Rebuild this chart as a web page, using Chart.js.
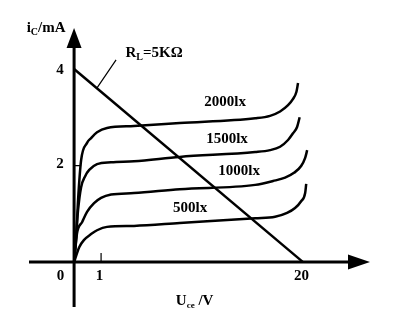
<!DOCTYPE html>
<html>
<head>
<meta charset="utf-8">
<script src="https://cdn.jsdelivr.net/npm/chart.js@4/dist/chart.umd.min.js"></script>
<style>
  body { margin: 0; background: #fff; }
  canvas { display: block; }
</style>
</head>
<body>
<canvas id="chart" width="397" height="324"></canvas>
<script>
// Uce (V), iC (mA) points
const curve2000 = [[0,0],[0.074,0.46],[0.148,1.29],[0.26,2.11],[0.48,2.47],[0.63,2.57],[0.85,2.69],[1.56,2.78],[4.1,2.82],[8.4,2.88],[15.5,2.98],[16.9,3.03],[17.84,3.12],[18.59,3.25],[19.06,3.38],[19.38,3.53],[19.53,3.71]];
const curve1500 = [[0,0],[0.074,0.56],[0.148,1.08],[0.26,1.55],[0.41,1.78],[0.56,1.91],[0.85,2.03],[1.94,2.07],[4.1,2.09],[8.4,2.18],[15.5,2.28],[16.9,2.32],[17.84,2.39],[18.59,2.53],[19.06,2.67],[19.44,2.8],[19.68,3.0]];
const curve1000 = [[0,0],[0.11,0.6],[0.3,0.83],[0.48,1.04],[0.74,1.22],[1.0,1.33],[1.94,1.4],[4.1,1.43],[8.4,1.51],[15.5,1.6],[17.18,1.68],[18.31,1.75],[19.15,1.85],[19.82,1.99],[20.2,2.16],[20.39,2.32]];
const curve500 = [[0,0],[0.19,0.31],[0.37,0.46],[0.63,0.58],[0.85,0.66],[1.56,0.73],[4.1,0.75],[8.4,0.81],[15.5,0.91],[17.37,0.94],[18.5,1.02],[19.25,1.12],[19.82,1.26],[20.2,1.43],[20.3,1.62]];
const loadLine = [[0,4],[20,0]];   // RL = 5 kΩ

const curveNames = ['2000lx', '1500lx', '1000lx', '500lx'];
const xTicks = [0, 1, 20];
const yTicks = [2, 4];

// the sketch is not to scale: 0..1 V is stretched
const STRETCH = 2.54;
const warp = v => v <= 1 ? v * STRETCH : STRETCH + (v - 1);
const unwarp = u => u <= STRETCH ? u / STRETCH : u - STRETCH + 1;

class WarpedScale extends Chart.LinearScale {
  static id = 'warped';
  static defaults = Chart.LinearScale.defaults;
  getPixelForValue(value) {
    const a = warp(this.min), b = warp(this.max);
    return this.getPixelForDecimal((warp(value) - a) / (b - a));
  }
  getValueForPixel(pixel) {
    const a = warp(this.min), b = warp(this.max);
    return unwarp(a + this.getDecimalForPixel(pixel) * (b - a));
  }
}
Chart.register(WarpedScale);

const FONT = '"Liberation Serif", "Times New Roman", serif';
const toPts = arr => arr.map(([x, y]) => ({ x, y }));

// curve labels (in data units) and the RL note
const curveLabelAt = [[12.67, 3.34], [12.85, 2.57], [13.98, 1.91], [9.37, 1.14]];
const rlNote = { at: [5.99, 4.35], from: [2.41, 4.19], to: [0.85, 3.61] };

function richText(ctx, parts, cx, cy) {
  let w = 0;
  parts.forEach(p => { ctx.font = 'bold ' + p[1] + 'px ' + FONT; w += ctx.measureText(p[0]).width; });
  let x = cx - w / 2;
  ctx.textAlign = 'left';
  ctx.textBaseline = 'alphabetic';
  parts.forEach(p => {
    ctx.font = 'bold ' + p[1] + 'px ' + FONT;
    ctx.fillText(p[0], x, cy + 5 + (p[2] || 0));
    x += ctx.measureText(p[0]).width;
  });
}

const sketchPlugin = {
  id: 'sketch',
  beforeDatasetsDraw(chart) {
    const { ctx, chartArea: a, scales: { x, y } } = chart;
    const x0 = x.getPixelForValue(0), y0 = y.getPixelForValue(0);
    ctx.save();
    ctx.strokeStyle = '#000';
    ctx.fillStyle = '#000';
    // axes with arrows
    ctx.lineWidth = 3;
    ctx.beginPath();
    ctx.moveTo(a.left, y0); ctx.lineTo(a.right - 18, y0);
    ctx.moveTo(x0, a.bottom); ctx.lineTo(x0, a.top + 16);
    ctx.stroke();
    ctx.beginPath();
    ctx.moveTo(a.right, y0); ctx.lineTo(a.right - 22, y0 - 7.5); ctx.lineTo(a.right - 22, y0 + 7.5);
    ctx.closePath(); ctx.fill();
    ctx.beginPath();
    ctx.moveTo(x0, a.top); ctx.lineTo(x0 - 7.5, a.top + 20); ctx.lineTo(x0 + 7.5, a.top + 20);
    ctx.closePath(); ctx.fill();
    // small tick marks
    ctx.lineWidth = 1.2;
    ctx.beginPath();
    const x1 = x.getPixelForValue(1);
    ctx.moveTo(x1, y0); ctx.lineTo(x1, y0 - 9);
    const y2 = y.getPixelForValue(2);
    ctx.moveTo(x0, y2); ctx.lineTo(x0 + 7, y2);
    // RL leader line
    ctx.moveTo(x.getPixelForValue(rlNote.from[0]), y.getPixelForValue(rlNote.from[1]));
    ctx.lineTo(x.getPixelForValue(rlNote.to[0]), y.getPixelForValue(rlNote.to[1]));
    ctx.stroke();
    ctx.restore();
  },
  afterDatasetsDraw(chart) {
    const { ctx, chartArea: a, scales: { x, y } } = chart;
    const x0 = x.getPixelForValue(0), y0 = y.getPixelForValue(0);
    ctx.save();
    ctx.fillStyle = '#000';
    // tick labels
    xTicks.forEach(v => {
      const px = v === 0 ? x0 - 13.5 : x.getPixelForValue(v) - 1.5;
      richText(ctx, [[String(v), 15]], px, y0 + 12.5);
    });
    yTicks.forEach(v => richText(ctx, [[String(v), 15]], x0 - 14, y.getPixelForValue(v) - (v === 2 ? 3 : 0)));
    // axis titles
    richText(ctx, [['i', 15], ['C', 10, 3], ['/mA', 15]], x0 - 28, a.top - 1);
    richText(ctx, [['U', 15], ['ce', 9, 3], [' /V', 15]], x.getPixelForValue(9.8), y0 + 38);
    // curve labels
    curveNames.forEach((n, i) => richText(ctx, [[n, 15]], x.getPixelForValue(curveLabelAt[i][0]), y.getPixelForValue(curveLabelAt[i][1])));
    richText(ctx, [['R', 15], ['L', 10, 3], ['=5KΩ', 15]], x.getPixelForValue(rlNote.at[0]), y.getPixelForValue(rlNote.at[1]));
    ctx.restore();
  }
};

const lineStyle = { showLine: true, borderColor: '#000', borderWidth: 2.5, pointRadius: 0, fill: false, cubicInterpolationMode: 'monotone' };

new Chart(document.getElementById('chart'), {
  type: 'scatter',
  data: {
    datasets: [
      { label: curveNames[0], data: toPts(curve2000), ...lineStyle },
      { label: curveNames[1], data: toPts(curve1500), ...lineStyle },
      { label: curveNames[2], data: toPts(curve1000), ...lineStyle },
      { label: curveNames[3], data: toPts(curve500), ...lineStyle },
      { label: 'RL', data: toPts(loadLine), ...lineStyle, cubicInterpolationMode: 'default', tension: 0 }
    ]
  },
  options: {
    responsive: false,
    animation: false,
    devicePixelRatio: 1,
    layout: { padding: { left: 29, right: 27, top: 28, bottom: 17 } },
    scales: {
      x: { type: 'warped', min: -1.67, max: 26.3, display: false },
      y: { type: 'linear', min: -0.93, max: 4.85, display: false }
    },
    plugins: { legend: { display: false }, tooltip: { enabled: false } }
  },
  plugins: [sketchPlugin]
});
</script>
</body>
</html>
